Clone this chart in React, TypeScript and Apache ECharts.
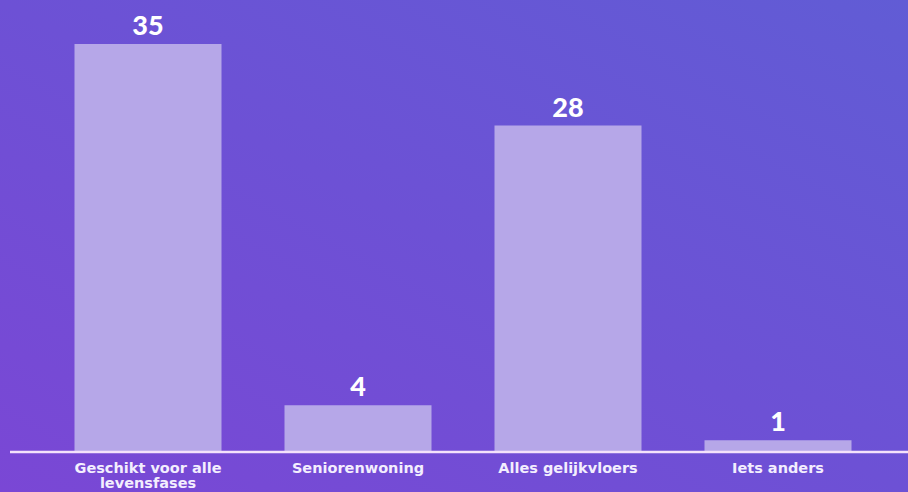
import React, { useEffect, useRef } from "react";
import * as echarts from "echarts";

const categories = ["Geschikt voor alle\nlevensfases", "Seniorenwoning", "Alles gelijkvloers", "Iets anders"];
const values = [35, 4, 28, 1];

export default function App() {
  const ref = useRef<HTMLDivElement>(null);
  useEffect(() => {
    document.body.style.margin = "0";
    const chart = echarts.init(ref.current!, null, { renderer: "svg" });
    chart.setOption({
      animation: false,
      backgroundColor: new echarts.graphic.LinearGradient(0, 1, 1, 0, [
        { offset: 0, color: "#7a47d5" },
        { offset: 0.5, color: "#6d51d5" },
        { offset: 1, color: "#615cd5" },
      ]),
      grid: { left: 43, right: 25, top: 44, bottom: 40 },
      xAxis: {
        type: "category",
        data: categories,
        axisLine: { show: false },
        axisTick: { show: false },
        axisLabel: {
          color: "#f3eefe",
          fontFamily: "DejaVu Sans",
          fontWeight: "bold",
          fontSize: 14.5,
          lineHeight: 15,
          margin: 8,
          interval: 0,
        },
      },
      yAxis: {
        type: "value",
        min: 0,
        max: 35,
        show: false,
        splitLine: { show: false },
      },
      graphic: [
        {
          type: "line",
          shape: { x1: 10, y1: 452, x2: 908, y2: 452 },
          style: { stroke: "#f4e2fb", lineWidth: 2.5 },
          z: 10,
        },
      ],
      series: [
        {
          type: "bar",
          data: values,
          barWidth: "70%",
          itemStyle: { color: "#b6a7e8" },
          label: {
            show: true,
            position: "top",
            distance: 6,
            color: "#ffffff",
            fontFamily: "Lato",
            fontWeight: 900,
            fontSize: 27,
          },
        },
      ],
    });
    return () => chart.dispose();
  }, []);
  return <div ref={ref} style={{ position: "absolute", left: 0, top: 0, width: 908, height: 492 }} />;
}
